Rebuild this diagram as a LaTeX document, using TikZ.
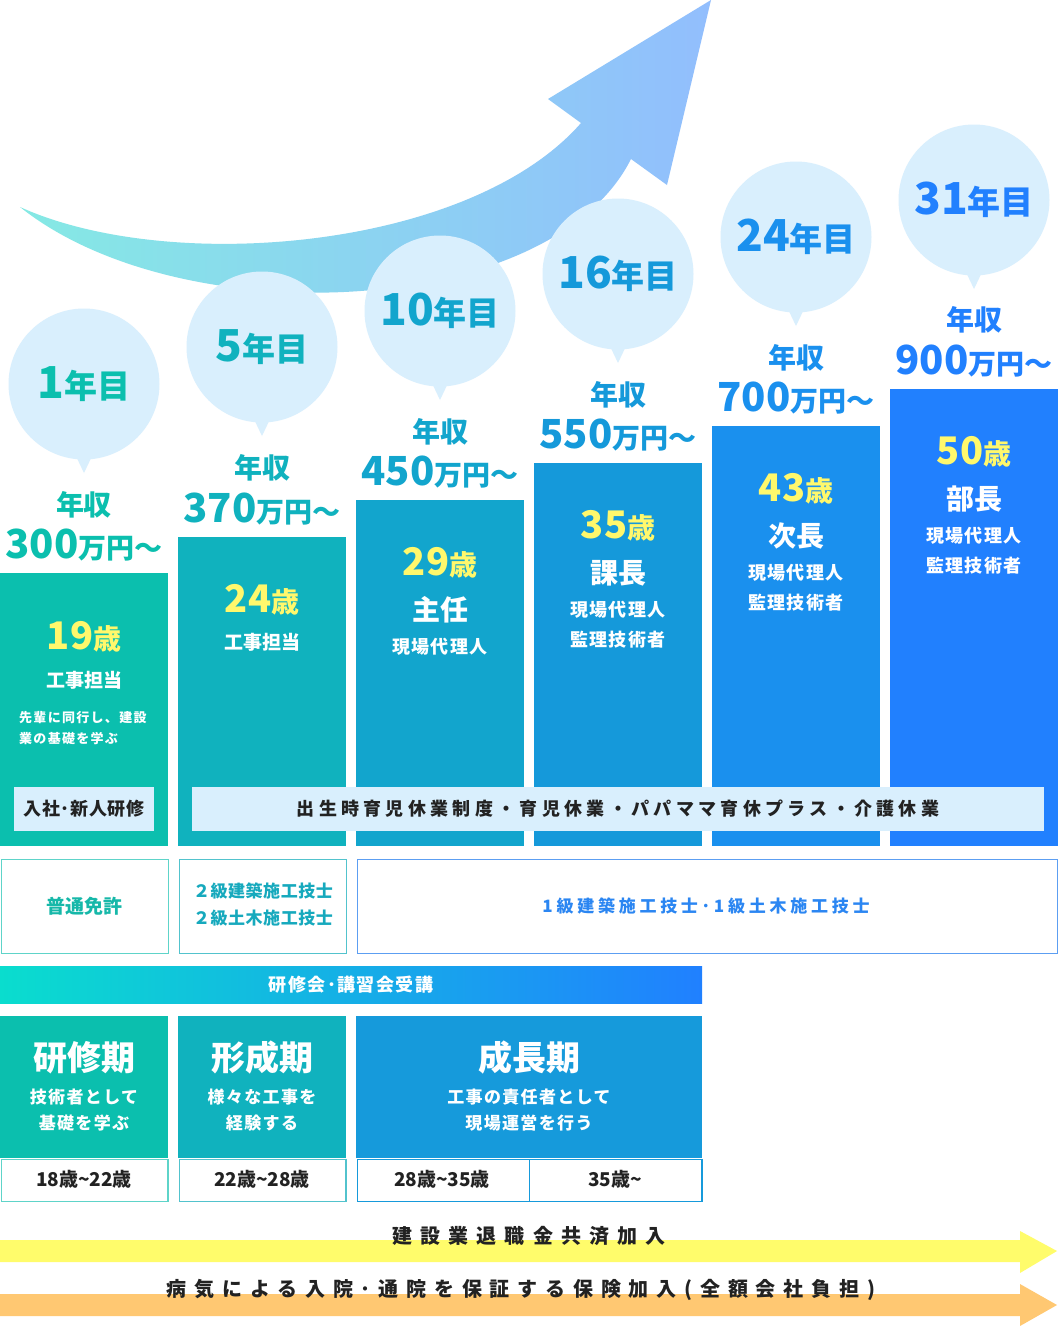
\documentclass[tikz,border=0pt]{standalone}
\usepackage{fontspec}
\setmainfont{Noto Sans CJK JP}
\usetikzlibrary{calc}
\definecolor{c1}{HTML}{0BBFAE}
\definecolor{c2}{HTML}{10B2BE}
\definecolor{c3}{HTML}{12A5CD}
\definecolor{c4}{HTML}{1599DA}
\definecolor{c5}{HTML}{1A90EE}
\definecolor{c6}{HTML}{2180FE}
\definecolor{bubC}{HTML}{D9EFFD}
\definecolor{ageY}{HTML}{FFF86C}
\definecolor{darkT}{HTML}{222222}
\definecolor{arrL}{HTML}{85E9E4}
\definecolor{arrR}{HTML}{92BEFD}
\definecolor{gradL}{HTML}{0ADDCE}
\definecolor{gradR}{HTML}{2080FF}
\definecolor{yelA}{HTML}{FFFC6B}
\definecolor{oraA}{HTML}{FFC872}
\definecolor{lic1}{HTML}{5ED4C9}
\definecolor{lic2}{HTML}{52C3CD}
\definecolor{lic3}{HTML}{5C9EF2}
\definecolor{lit1}{HTML}{16B8A9}
\definecolor{lit2}{HTML}{16A9BD}
\definecolor{lit3}{HTML}{2B86F2}
\definecolor{per3}{HTML}{169ADB}
\newcommand\fs[1]{\fontsize{#1}{#1}\selectfont}
\newcommand\lsp[1]{\addfontfeature{LetterSpace=#1}}
\newcommand\tld{\char"007E\relax}
\begin{document}
\begin{tikzpicture}[x=1pt,y=-1pt,
  bubble/.style={circle,fill=bubC,minimum size=151,inner sep=0pt,font=\bfseries},
  colbox/.style={rectangle,anchor=north west,minimum width=168,inner sep=0pt,outer sep=0pt},
  yr/.style={font=\bfseries\fs{28},inner sep=0pt},
  amt/.style={font=\bfseries,inner sep=0pt},
  agetxt/.style={text=ageY,font=\bfseries,inner sep=0pt},
  role/.style={text=white,font=\bfseries\fs{19},inner sep=0pt},
  title/.style={text=white,font=\bfseries\fs{28},inner sep=0pt},
  sub/.style={text=white,font=\bfseries\fs{18}\lsp{6},inner sep=0pt},
  lbox/.style={rectangle,fill=bubC,inner sep=0pt,text=darkT,font=\bfseries\fs{18}},
  licbox/.style={rectangle,draw,fill=white,line width=1.3pt,inner sep=0pt,anchor=north west},
  perbox/.style={rectangle,anchor=north west,inner sep=0pt,outer sep=0pt},
  pertitle/.style={text=white,font=\bfseries\fs{34},inner sep=0pt},
  pertxt/.style={text=white,font=\bfseries\fs{17}\lsp{8},inner sep=0pt},
  agebox/.style={rectangle,draw,fill=white,line width=1.2pt,anchor=north west,inner sep=0pt,text=darkT,font=\bfseries\fs{18}},
  agelbl/.style={text=darkT,font=\bfseries\fs{19},inner sep=0pt},
  bartxt/.style={text=darkT,font=\bfseries\fs{20}\lsp{41},inner sep=0pt}
]
\useasboundingbox (0,0) rectangle (1058,1326);
\fill[white] (0,0) rectangle (1058,1326);

% big rising arrow
\shade[left color=arrL,right color=arrR]
  (20,207) .. controls (170,275) and (470,250) .. (581,123)
  -- (548,99) -- (711,0) -- (667,185) -- (631,159)
  .. controls (550,320) and (180,335) .. (20,207) -- cycle;

% columns
\foreach \i/\x/\t/\h/\c in {1/0/573/273/c1,2/178/537/309/c2,3/356/500/346/c3,4/534/463/383/c4,5/712/426/420/c5,6/890/389/457/c6}{
  \node[colbox,fill=\c,minimum height=\h] (col\i) at (\x,\t) {};
}

% bubbles, salaries
\foreach \i/\cx/\cy/\n/\c/\ly/\ay/\m in {1/84/384/1/c1/505/545/300,2/262/347/5/c2/468/509/370,3/440/311/10/c3/432/472/450,4/618/274/16/c4/395/435/550,5/796/237/24/c5/358/398/700,6/974/200/31/c6/320/361/900}{
  \fill[bubC] (\cx-10,\cy+68) -- (\cx+10,\cy+68) -- (\cx,\cy+89) -- cycle;
  \node[bubble,text=\c] (b\i) at (\cx,\cy) {\fs{44}\n\fs{33}年目};
  \node[yr,text=\c] (y\i) at (\cx,\ly) {年収};
  \node[amt,text=\c] (m\i) at (\cx,\ay) {\fs{40}\m\fs{28}万円～};
}

% column contents
\node[agetxt] (a1) at (84,637) {\fs{38}19\fs{28}歳};
\node[role] (r1) at (84,680) {工事担当};
\node[text=white,font=\bfseries\fs{13}\lsp{10},inner sep=0pt,anchor=west] (d1a) at (19,718) {先輩に同行し、建設};
\node[text=white,font=\bfseries\fs{13}\lsp{10},inner sep=0pt,anchor=west] (d1b) at (19,739) {業の基礎を学ぶ};

\node[agetxt] (a2) at (262,600) {\fs{38}24\fs{28}歳};
\node[role] (r2) at (262,642) {工事担当};

\node[agetxt] (a3) at (440,563) {\fs{38}29\fs{28}歳};
\node[title] (t3) at (440,610) {主任};
\node[sub] (s3a) at (440,647) {現場代理人};

\node[agetxt] (a4) at (618,526) {\fs{38}35\fs{28}歳};
\node[title] (t4) at (618,573) {課長};
\node[sub] (s4a) at (618,610) {現場代理人};
\node[sub] (s4b) at (618,640) {監理技術者};

\node[agetxt] (a5) at (796,489) {\fs{38}43\fs{28}歳};
\node[title] (t5) at (796,536) {次長};
\node[sub] (s5a) at (796,573) {現場代理人};
\node[sub] (s5b) at (796,603) {監理技術者};

\node[agetxt] (a6) at (974,452) {\fs{38}50\fs{28}歳};
\node[title] (t6) at (974,499) {部長};
\node[sub] (s6a) at (974,536) {現場代理人};
\node[sub] (s6b) at (974,566) {監理技術者};

% training / leave bands
\node[lbox,minimum width=140,minimum height=44,font=\bfseries\fs{18}\lsp{4}] (train) at (84,809) {入社･新人研修};
\node[lbox,minimum width=852,minimum height=44,font=\bfseries\fs{18}\lsp{24}] (leave) at (618,809) {出生時育児休業制度・育児休業・パパママ育休プラス・介護休業};

% licences
\node[licbox,draw=lic1,minimum width=167,minimum height=94] (L1) at (0.7,858.7) {};
\node[text=lit1,font=\bfseries\fs{19},inner sep=0pt] (L1t) at (84,906) {普通免許};
\node[licbox,draw=lic2,minimum width=167,minimum height=94] (L2) at (178.7,858.7) {};
\node[text=lit2,font=\bfseries\fs{17}\lsp{3},inner sep=0pt] (L2a) at (263,891) {２級建築施工技士};
\node[text=lit2,font=\bfseries\fs{17}\lsp{3},inner sep=0pt] (L2b) at (263,918) {２級土木施工技士};
\node[licbox,draw=lic3,minimum width=700,minimum height=94] (L3) at (356.7,858.7) {};
\node[text=lit3,font=\bfseries\fs{17}\lsp{22},inner sep=0pt] (L3t) at (706,906) {1級建築施工技士･1級土木施工技士};

% seminar bar
\node[rectangle,anchor=north west,minimum width=702,minimum height=37,inner sep=0pt,left color=gradL,right color=gradR] (sem) at (0,966) {};
\node[text=white,font=\bfseries\fs{18}\lsp{8},inner sep=0pt] (semt) at (351,985) {研修会･講習会受講};

% periods
\node[perbox,fill=c1,minimum width=168,minimum height=142] (P1) at (0,1016) {};
\node[pertitle] (P1t) at (84,1058) {研修期};
\node[pertxt] (P1a) at (84,1097) {技術者として};
\node[pertxt] (P1b) at (84,1123) {基礎を学ぶ};
\node[agebox,draw=lic1,minimum width=166.8,minimum height=42] (A1) at (0.6,1158.6) {};
\node[agelbl] (A1t) at (84,1179) {18歳\tld22歳};

\node[perbox,fill=c2,minimum width=168,minimum height=142] (P2) at (178,1016) {};
\node[pertitle] (P2t) at (262,1058) {形成期};
\node[pertxt] (P2a) at (262,1097) {様々な工事を};
\node[pertxt] (P2b) at (262,1123) {経験する};
\node[agebox,draw=lic2,minimum width=166.8,minimum height=42] (A2) at (178.6,1158.6) {};
\node[agelbl] (A2t) at (262,1179) {22歳\tld28歳};

\node[perbox,fill=per3,minimum width=346,minimum height=142] (P3) at (356,1016) {};
\node[pertitle] (P3t) at (529,1058) {成長期};
\node[pertxt] (P3a) at (529,1097) {工事の責任者として};
\node[pertxt] (P3b) at (529,1123) {現場運営を行う};
\node[agebox,draw=per3,minimum width=172.4,minimum height=42] (A3) at (356.6,1158.6) {};
\node[agebox,draw=per3,minimum width=172.4,minimum height=42] (A4) at (529,1158.6) {};
\node[agelbl] (A3t) at (442,1179) {28歳\tld35歳};
\node[agelbl] (A4t) at (615,1179) {35歳\tld};

% bottom arrows
\fill[yelA] (0,1240) -- (1020,1240) -- (1020,1231) -- (1057,1251) -- (1020,1273) -- (1020,1262) -- (0,1262) -- cycle;
\node[bartxt] (Y) at (529,1236) {建設業退職金共済加入};
\fill[oraA] (0,1294) -- (1020,1294) -- (1020,1284) -- (1057,1305) -- (1020,1326) -- (1020,1316) -- (0,1316) -- cycle;
\node[bartxt,font=\bfseries\fs{20}\lsp{39}] (O) at (521,1290) {病気による入院･通院を保証する保険加入(全額会社負担)};
\end{tikzpicture}
\end{document}
